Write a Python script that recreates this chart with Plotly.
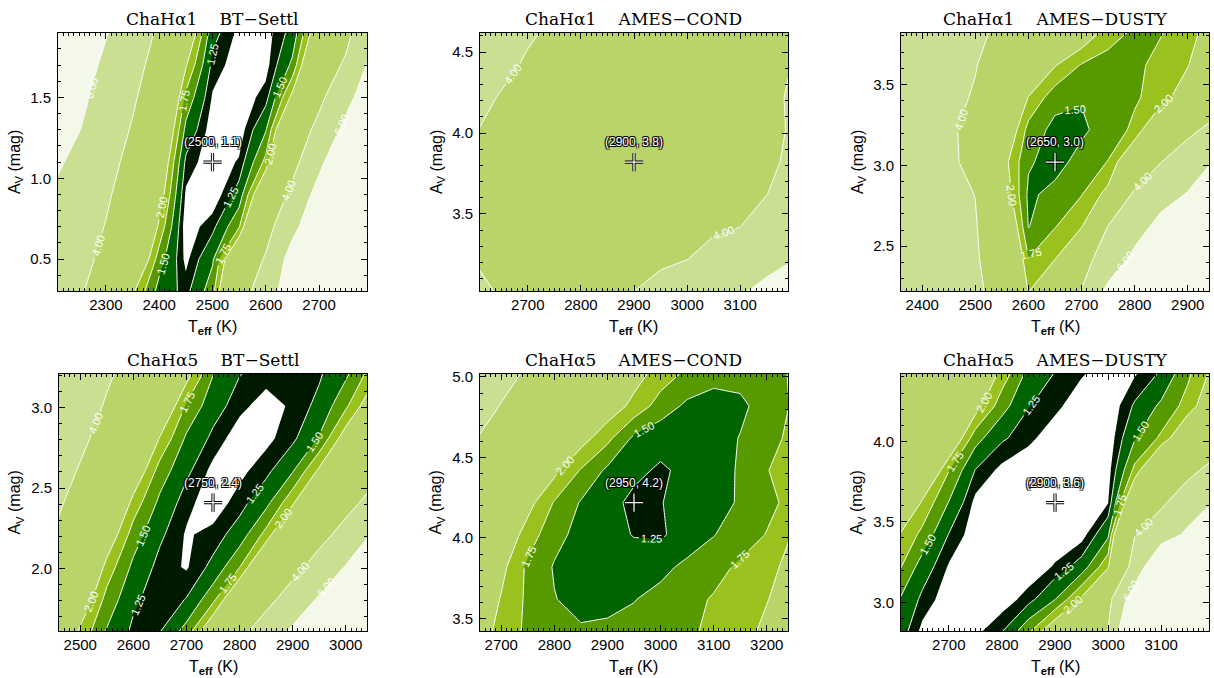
import plotly.graph_objects as go

# ------------------------------------------------------------------ data
panel_titles = ["ChaHα1\u2003 BT−Settl", "ChaHα1\u2003 AMES−COND", "ChaHα1\u2003 AMES−DUSTY",
                "ChaHα5\u2003 BT−Settl", "ChaHα5\u2003 AMES−COND", "ChaHα5\u2003 AMES−DUSTY"]
best_teff = [2500, 2900, 2650, 2750, 2950, 2900]
best_av = [1.10, 3.82, 3.02, 2.41, 4.22, 3.62]

fill_levels = [1.1, 1.25, 1.5, 1.75, 2.0, 4.0, 6.0]
line_levels_low = [1.25, 2.0, 0.25]   # start, end, step
line_levels_high = [4.0, 6.0, 2.0]

# Panel 1 : ChaHa1 BT-Settl
teff_1 = [2200, 2250, 2300, 2350, 2400, 2450, 2500, 2550, 2600, 2650, 2700, 2750, 2800]
av_1 = [0.3, 0.5, 0.7, 0.9, 1.1, 1.3, 1.5, 1.7, 1.9]
chi2_1 = [
    [4.88, 4.18, 3.19, 2.05, 1.40, 1.18, 1.65, 3.08, 5.14, 7.0, 9.0, 11.0, 13.0],
    [5.22, 4.48, 3.63, 2.60, 1.62, 1.05, 1.46, 2.62, 4.16, 6.8, 9.0, 11.0, 13.0],
    [5.48, 4.72, 3.94, 2.94, 1.94, 1.00, 1.19, 1.73, 3.36, 5.5, 7.5, 9.5, 11.5],
    [5.84, 5.02, 4.21, 3.24, 2.21, 1.07, 0.97, 1.35, 2.54, 4.41, 6.7, 9.0, 11.0],
    [6.40, 5.48, 4.54, 3.53, 2.42, 1.20, 0.98, 1.12, 1.83, 3.46, 5.55, 7.8, 10.0],
    [7.10, 6.04, 4.96, 3.86, 2.68, 1.43, 1.00, 1.00, 1.48, 2.85, 4.48, 6.5, 8.0],
    [7.50, 6.40, 5.32, 4.22, 2.97, 1.68, 1.08, 0.98, 1.17, 2.09, 3.60, 5.4, 7.3],
    [7.90, 6.77, 5.67, 4.57, 3.36, 2.03, 1.19, 1.00, 1.03, 1.56, 2.83, 4.27, 6.5],
    [8.50, 7.20, 6.10, 4.94, 3.76, 2.41, 1.33, 1.05, 1.02, 1.33, 2.33, 3.44, 5.9],
]

# Panel 2 : ChaHa1 AMES-COND
teff_2 = [2600, 2650, 2700, 2750, 2800, 2850, 2900, 2950, 3000, 3050, 3100, 3150, 3200]
av_2 = [3.02, 3.22, 3.42, 3.62, 3.82, 4.02, 4.22, 4.42, 4.62]
chi2_2 = [
    [4.40, 3.85, 3.60, 3.45, 3.50, 3.70, 4.00, 4.50, 5.00, 5.40, 5.85, 6.40, 7.00],
    [3.95, 3.70, 3.45, 3.30, 3.30, 3.40, 3.55, 3.75, 3.98, 4.50, 5.00, 5.50, 5.95],
    [3.70, 3.50, 3.30, 3.15, 3.10, 3.15, 3.25, 3.40, 3.60, 3.80, 3.99, 4.60, 5.20],
    [3.60, 3.40, 3.20, 3.05, 3.00, 3.00, 3.10, 3.25, 3.40, 3.60, 3.80, 3.99, 4.40],
    [3.65, 3.40, 3.20, 3.05, 2.95, 2.95, 3.00, 3.10, 3.25, 3.45, 3.65, 3.88, 4.12],
    [4.05, 3.70, 3.40, 3.20, 3.05, 2.98, 3.00, 3.05, 3.20, 3.40, 3.60, 3.88, 4.05],
    [4.35, 3.92, 3.60, 3.35, 3.20, 3.10, 3.05, 3.05, 3.15, 3.35, 3.55, 3.85, 4.08],
    [4.80, 4.30, 3.85, 3.55, 3.35, 3.20, 3.15, 3.15, 3.20, 3.35, 3.55, 3.80, 4.02],
    [5.30, 4.75, 4.15, 3.80, 3.55, 3.40, 3.30, 3.30, 3.35, 3.45, 3.60, 3.80, 3.95],
]

# Panel 3 : ChaHa1 AMES-DUSTY
teff_3 = [2350, 2400, 2450, 2500, 2550, 2600, 2650, 2700, 2750, 2800, 2850, 2900, 2950]
av_3 = [2.22, 2.42, 2.62, 2.82, 3.02, 3.22, 3.42, 3.62, 3.82]
chi2_3 = [
    [5.6, 5.2, 4.8, 4.4, 3.2, 1.98, 3.0, 4.05, 6.5, 8.0, 9.5, 11.0, 12.5],
    [5.5, 5.0, 4.6, 4.2, 2.95, 1.76, 1.99, 3.4, 4.8, 6.5, 8.0, 9.5, 11.0],
    [5.4, 4.9, 4.5, 4.1, 2.7, 1.49, 1.74, 1.97, 4.05, 5.2, 6.6, 8.2, 9.8],
    [5.3, 4.8, 4.4, 3.98, 2.3, 1.45, 1.58, 1.74, 2.1, 4.3, 5.3, 6.1, 7.0],
    [5.2, 4.7, 4.25, 3.6, 2.15, 1.53, 1.40, 1.60, 1.76, 2.45, 3.98, 5.0, 6.1],
    [5.1, 4.65, 4.25, 3.5, 2.45, 1.66, 1.42, 1.45, 1.62, 1.80, 2.5, 3.6, 4.5],
    [5.0, 4.6, 4.3, 3.9, 3.0, 1.98, 1.60, 1.52, 1.60, 1.72, 1.85, 2.25, 3.0],
    [4.9, 4.6, 4.4, 4.05, 3.4, 2.7, 2.02, 1.73, 1.64, 1.70, 1.82, 1.98, 2.5],
    [4.9, 4.6, 4.4, 4.15, 3.85, 3.3, 2.7, 2.25, 1.87, 1.70, 1.74, 1.90, 2.15],
]

# Panel 4 : ChaHa5 BT-Settl
teff_4 = [2450, 2500, 2550, 2600, 2650, 2700, 2750, 2800, 2850, 2900, 2950, 3000, 3050]
av_4 = [1.61, 1.81, 2.01, 2.21, 2.41, 2.61, 2.81, 3.01, 3.21]
chi2_4 = [
    [2.76, 1.94, 1.48, 1.20, 1.24, 1.60, 2.35, 3.53, 4.87, 6.3, 7.6, 8.9, 10.2],
    [3.15, 2.28, 1.66, 1.30, 1.12, 1.26, 1.67, 2.47, 3.50, 4.76, 6.2, 7.5, 8.8],
    [3.56, 2.70, 1.90, 1.44, 1.18, 1.08, 1.31, 1.74, 2.57, 3.49, 4.67, 6.1, 7.4],
    [3.95, 3.10, 2.25, 1.63, 1.29, 1.08, 1.15, 1.36, 1.84, 2.65, 3.48, 4.58, 6.15],
    [4.30, 3.51, 2.69, 1.90, 1.44, 1.15, 1.00, 1.17, 1.42, 1.95, 2.71, 3.47, 4.5],
    [4.70, 3.89, 3.10, 2.30, 1.64, 1.30, 1.05, 1.05, 1.19, 1.47, 2.05, 2.80, 3.5],
    [5.10, 4.30, 3.48, 2.73, 1.98, 1.46, 1.20, 1.00, 1.05, 1.20, 1.52, 2.17, 2.8],
    [5.50, 4.70, 3.86, 3.13, 2.40, 1.71, 1.35, 1.15, 1.02, 1.13, 1.31, 1.70, 2.25],
    [5.80, 5.00, 4.20, 3.49, 2.81, 2.12, 1.51, 1.26, 1.17, 1.15, 1.22, 1.45, 1.87],
]

# Panel 5 : ChaHa5 AMES-COND
teff_5 = [2650, 2700, 2750, 2800, 2850, 2900, 2950, 3000, 3050, 3100, 3150, 3200, 3250]
av_5 = [3.42, 3.62, 3.82, 4.02, 4.22, 4.42, 4.62, 4.82, 5.02]
chi2_5 = [
    [2.20, 1.90, 1.70, 1.58, 1.53, 1.55, 1.58, 1.63, 1.71, 1.80, 1.92, 2.05, 2.20],
    [2.30, 1.98, 1.70, 1.51, 1.42, 1.43, 1.49, 1.58, 1.68, 1.77, 1.88, 1.99, 2.12],
    [2.45, 2.08, 1.70, 1.48, 1.38, 1.34, 1.36, 1.43, 1.56, 1.67, 1.79, 1.93, 2.08],
    [2.65, 2.25, 1.88, 1.58, 1.42, 1.32, 1.24, 1.22, 1.35, 1.49, 1.63, 1.76, 2.02],
    [2.95, 2.50, 2.10, 1.73, 1.48, 1.32, 1.20, 1.24, 1.34, 1.43, 1.52, 1.69, 1.82],
    [3.40, 2.90, 2.45, 2.08, 1.73, 1.45, 1.30, 1.22, 1.30, 1.42, 1.52, 1.74, 1.86],
    [4.05, 3.50, 3.00, 2.50, 2.12, 1.82, 1.45, 1.33, 1.33, 1.40, 1.51, 1.68, 1.80],
    [4.60, 3.95, 3.40, 2.90, 2.50, 2.18, 1.92, 1.64, 1.45, 1.38, 1.45, 1.60, 1.78],
    [5.10, 4.40, 3.85, 3.30, 2.85, 2.45, 2.12, 1.88, 1.70, 1.60, 1.58, 1.65, 1.78],
]

# Panel 6 : ChaHa5 AMES-DUSTY
teff_6 = [2600, 2650, 2700, 2750, 2800, 2850, 2900, 2950, 3000, 3050, 3100, 3150, 3200]
av_6 = [2.82, 3.02, 3.22, 3.42, 3.62, 3.82, 4.02, 4.22, 4.42]
chi2_6 = [
    [1.42, 1.05, 0.95, 1.05, 1.24, 1.70, 2.30, 3.20, 4.05, 9.0, 10.0, 11.0, 12.0],
    [1.55, 1.20, 1.00, 0.95, 1.00, 1.17, 1.49, 2.05, 3.50, 7.2, 9.0, 10.5, 12.0],
    [1.85, 1.38, 1.08, 0.98, 0.95, 0.98, 1.12, 1.36, 1.95, 4.6, 8.5, 9.5, 10.5],
    [2.05, 1.68, 1.24, 1.00, 0.95, 0.95, 0.98, 1.02, 1.45, 3.95, 5.0, 6.35, 7.6],
    [2.90, 1.95, 1.49, 1.05, 0.95, 0.92, 0.92, 0.95, 1.09, 2.55, 3.75, 4.9, 6.1],
    [3.50, 2.55, 1.76, 1.24, 1.05, 0.95, 0.92, 0.95, 1.02, 1.82, 2.75, 3.6, 4.5],
    [3.80, 3.10, 2.40, 1.60, 1.28, 1.15, 0.98, 0.95, 0.98, 1.48, 1.80, 2.4, 3.1],
    [3.90, 3.40, 2.80, 2.15, 1.60, 1.26, 1.15, 0.98, 0.96, 1.28, 1.55, 1.85, 2.3],
    [3.95, 3.50, 3.00, 2.45, 1.90, 1.42, 1.24, 1.12, 1.00, 1.08, 1.28, 1.70, 2.1],
]

grids = [(teff_1, av_1, chi2_1), (teff_2, av_2, chi2_2), (teff_3, av_3, chi2_3),
         (teff_4, av_4, chi2_4), (teff_5, av_5, chi2_5), (teff_6, av_6, chi2_6)]

x_ranges = [[2210, 2790], [2610, 3190], [2360, 2940], [2460, 3040], [2660, 3240], [2610, 3190]]
y_ranges = [[0.30, 1.90], [3.02, 4.62], [2.22, 3.82], [1.61, 3.21], [3.42, 5.02], [2.82, 4.42]]

# ------------------------------------------------------------------ style
fill_colors = ["#001a00", "#006400", "#579a00", "#9ac21e", "#b9d468", "#cadf92", "#f4f8e8"]
W, H = 1214, 678
boxes = [(58, 27, 367, 288), (480, 27, 788, 288), (901, 27, 1209, 288),
         (59, 371, 367, 631), (480, 371, 788, 631), (901, 371, 1209, 631)]
tick_font = dict(family="Liberation Sans", size=15, color="black")
title_font = dict(family="DejaVu Serif", size=17, color="black")
axis_title_font = dict(family="Liberation Sans", size=16, color="black")
outline = "1px 1px 0 #000, -1px -1px 0 #000, 1px -1px 0 #000, -1px 1px 0 #000"

fig = go.Figure()
annotations = []
for k in range(6):
    n = "" if k == 0 else str(k + 1)
    xa, ya = "x" + n, "y" + n
    tx, ty, tz = grids[k]
    for lev, col in zip(fill_levels, fill_colors):
        fig.add_trace(go.Contour(
            x=tx, y=ty, z=tz, xaxis=xa, yaxis=ya,
            contours=dict(type="constraint", operation="<", value=lev),
            fillcolor=col, line=dict(width=0, smoothing=0),
            showscale=False, hoverinfo="skip"))
    for s, e, d in (line_levels_low, line_levels_high):
        fig.add_trace(go.Contour(
            x=tx, y=ty, z=tz, xaxis=xa, yaxis=ya,
            contours=dict(coloring="none", start=s, end=e, size=d, showlabels=True,
                          labelformat=".2f",
                          labelfont=dict(color="white", size=11, family="Liberation Sans")),
            line=dict(color="white", width=1, smoothing=0),
            showscale=False, hoverinfo="skip"))
    fig.add_trace(go.Scatter(
        x=[best_teff[k]], y=[best_av[k]], xaxis=xa, yaxis=ya, mode="markers",
        marker=dict(symbol="cross-thin", size=13, line=dict(color="black", width=3.2)),
        hoverinfo="skip"))
    fig.add_trace(go.Scatter(
        x=[best_teff[k]], y=[best_av[k]], xaxis=xa, yaxis=ya, mode="markers",
        marker=dict(symbol="cross-thin", size=13, line=dict(color="white", width=1.3)),
        hoverinfo="skip"))
    annotations.append(dict(
        x=best_teff[k], y=best_av[k], xref=xa, yref=ya, yshift=20, showarrow=False,
        text=f"({best_teff[k]}, {best_av[k]:.1f})",
        font=dict(family="Liberation Sans", size=12, color="white", shadow=outline)))

    x0, y0, x1, y1 = boxes[k]
    fig.layout["xaxis" + n] = dict(
        domain=[x0 / W, x1 / W], range=x_ranges[k], anchor=ya,
        dtick=100, tick0=0, ticks="inside", ticklen=6, tickwidth=1, tickcolor="black",
        minor=dict(dtick=10, tick0=0, ticks="inside", ticklen=3, tickcolor="black", showgrid=False),
        mirror="allticks", showline=True, linecolor="black", linewidth=1,
        showgrid=False, zeroline=False, tickfont=tick_font, ticklabelstandoff=0)
    fig.layout["yaxis" + n] = dict(
        domain=[1 - y1 / H, 1 - y0 / H], range=y_ranges[k], anchor=xa,
        dtick=0.5, tick0=0, tickformat=".1f", ticks="inside", ticklen=6, tickwidth=1,
        tickcolor="black",
        minor=dict(dtick=0.1, tick0=0, ticks="inside", ticklen=3, tickcolor="black", showgrid=False),
        mirror="allticks", showline=True, linecolor="black", linewidth=1,
        showgrid=False, zeroline=False, tickfont=tick_font, ticklabelstandoff=3)

    xc = (x0 + x1) / 2 / W
    annotations.append(dict(x=xc, y=1 - (y0 - 14) / H, xref="paper", yref="paper",
                            text=panel_titles[k], showarrow=False, font=title_font,
                            xanchor="center", yanchor="middle"))
    annotations.append(dict(x=xc, y=1 - (y1 + 36) / H, xref="paper", yref="paper",
                            text="T<sub><b>eff</b></sub> (K)", showarrow=False,
                            font=axis_title_font, xanchor="center", yanchor="middle"))
    annotations.append(dict(x=(x0 - 43) / W, y=1 - (y0 + y1) / 2 / H, xref="paper", yref="paper",
                            text="A<sub>V</sub> (mag)", showarrow=False, textangle=-90,
                            font=axis_title_font, xanchor="center", yanchor="middle"))

fig.update_layout(
    width=W, height=H, margin=dict(l=0, r=0, t=0, b=0),
    paper_bgcolor="white", plot_bgcolor="white", showlegend=False,
    annotations=annotations, hovermode=False)

fig.write_html("out.html")
